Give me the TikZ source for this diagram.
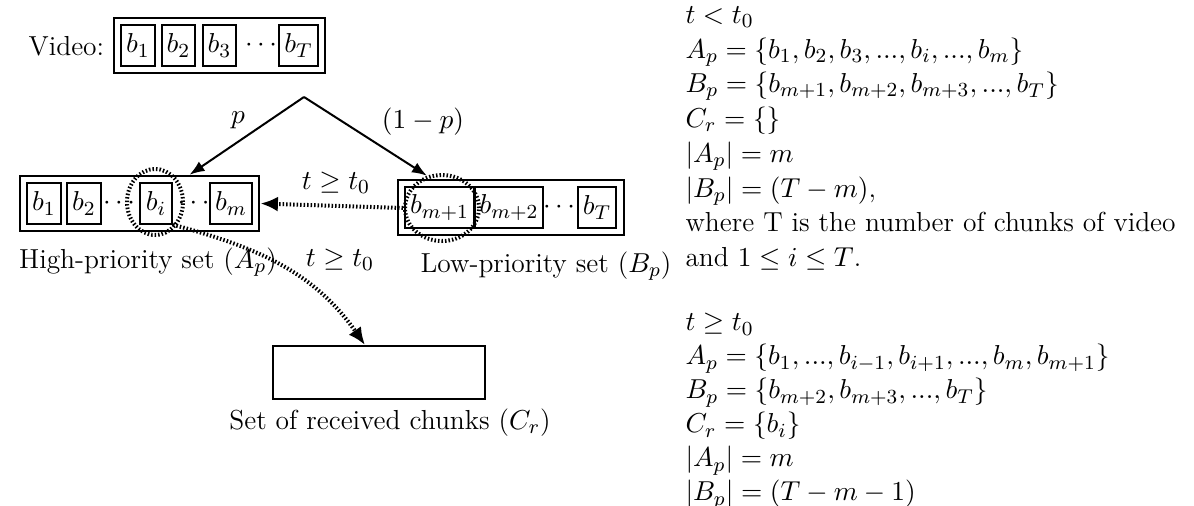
\documentclass[tikz,border=0pt]{standalone}
\usetikzlibrary{arrows.meta,fit,shapes.geometric}
\begin{document}
\begin{tikzpicture}[x=0.4pt,y=0.4pt,font=\fontsize{11}{13.6}\selectfont,
  chunk/.style={draw,line width=0.8pt,minimum width=12.8pt,minimum height=16.2pt,inner sep=2pt},
  setbox/.style={draw,line width=0.8pt,inner sep=2.6pt},
  ring/.style={ellipse,draw,line width=1.6pt,dash pattern=on 0.6pt off 0.8pt,inner sep=0pt},
  flow/.style={line width=0.8pt,-{Latex[length=6pt,width=4.5pt]}},
  dotflow/.style={line width=1.6pt,dash pattern=on 0.6pt off 0.8pt,-{Latex[length=7pt,width=6pt]}}]
\useasboundingbox (0,0) rectangle (1194,-506);
% video chunks
\node[anchor=east] (vlab) at (113,-46) {Video:};
\node[chunk] (v1) at (138,-45.5) {$b_1$};\node[chunk] (v2) at (178.5,-45.5) {$b_2$};\node[chunk] (v3) at (219.5,-45.5) {$b_3$};
\node (vd) at (261,-45.5) {$\cdots$};\node[chunk] (vT) at (298.5,-45.5) {$b_T$};
\node[setbox,fit=(v1)(vT)] (vset) {};
% high-priority set
\node[chunk] (h1) at (44,-203.5) {$b_1$};\node[chunk] (h2) at (84,-203.5) {$b_2$};\node (hd1) at (119,-203.5) {$\cdots$};
\node[chunk] (hi) at (156,-203.5) {$b_i$};\node (hd2) at (193.5,-203.5) {$\cdots$};\node[chunk] (hm) at (231,-203.5) {$b_m$};
\node[setbox,fit=(h1)(hm)] (hset) {};
\node[ring,minimum width=22.4pt,minimum height=26.4pt] (ri) at (155,-202) {};
\node (hlab) at (148,-262) {High-priority set ($A_p$)};
% low-priority set
\node[chunk] (l1) at (439.5,-207.5) {$b_{m+1}$};\node[chunk] (l2) at (509,-207.5) {$b_{m+2}$};
\node (ld) at (559,-207.5) {$\cdots$};\node[chunk] (lT) at (597,-207.5) {$b_T$};
\node[setbox,fit=(l1)(lT)] (lset) {};
\node[ring,minimum width=29.6pt,minimum height=26.4pt] (rl) at (442,-208) {};
\node (llab) at (546,-266) {Low-priority set ($B_p$)};
% received chunks
\node[setbox,minimum width=84.8pt,minimum height=21.2pt] (rset) at (379,-372.5) {};
\node (rlab) at (390,-423) {Set of received chunks ($C_r$)};
% transitions
\coordinate (src) at (304,-97);
\draw[flow] (src) -- ([xshift=20pt]hset.north);
\draw[flow] (src) -- (rl.115);
\node (pl) at (238,-120) {$p$};\node (ql) at (423,-122) {$(1-p)$};
\draw[dotflow] (rl.west) -- (hset.east);
\node (t1) at (336,-183) {$t\geq t_0$};
\draw[dotflow] (hi.south east) to[out=-15,in=125] ([xshift=-5.6pt]rset.north);
\node (t2) at (340,-260) {$t\geq t_0$};
% set contents
\node[anchor=north west,align=left,inner sep=0pt,font=\fontsize{11}{13.9}\selectfont] (before) at (685,-6) {$t<t_0$\\
$A_p=\{b_1,b_2,b_3,...,b_i,...,b_m\}$\\
$B_p=\{b_{m+1},b_{m+2},b_{m+3},...,b_T\}$\\
$C_r=\{\}$\\
$|A_p|=m$\\
$|B_p|=(T-m)$,\\
where T is the number of chunks of video\\
and $1\leq i\leq T$.};
\node[anchor=north west,align=left,inner sep=0pt] (after) at (685,-313) {$t\geq t_0$\\
$A_p=\{b_1,...,b_{i-1},b_{i+1},...,b_m,b_{m+1}\}$\\
$B_p=\{b_{m+2},b_{m+3},...,b_T\}$\\
$C_r=\{b_i\}$\\
$|A_p|=m$\\
$|B_p|=(T-m-1)$};
\end{tikzpicture}
\end{document}
